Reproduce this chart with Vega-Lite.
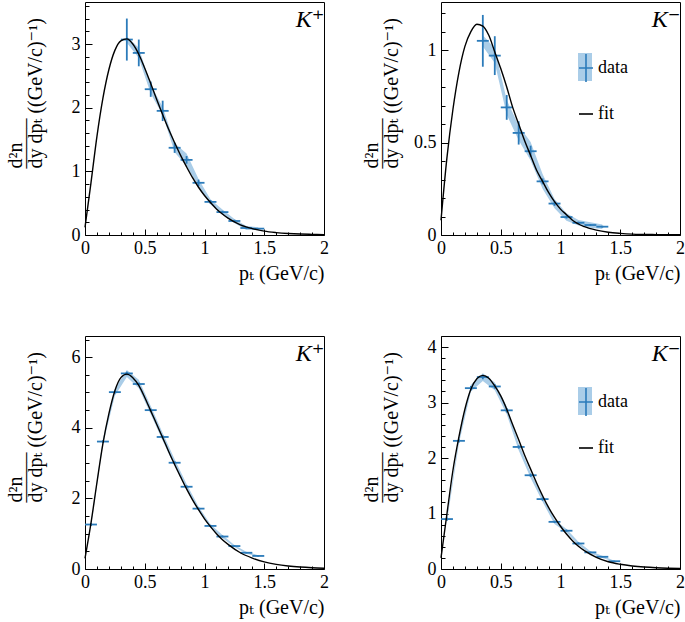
{
  "$schema": "https://vega.github.io/schema/vega-lite/v6.json",
  "padding": {"left": 4, "top": 1, "right": 3, "bottom": 5},
  "background": "white",
  "config": {
    "font": "Liberation Serif, DejaVu Serif, serif",
    "view": {"stroke": "black", "strokeWidth": 1},
    "axis": {"domain": false, "grid": false, "tickColor": "black", "tickWidth": 1, "labelFont": "Liberation Serif, DejaVu Serif, serif", "labelFontSize": 18, "labelColor": "black", "labelOverlap": false, "labelFlush": false, "titleFont": "Liberation Serif, DejaVu Serif, serif", "titleFontSize": 20, "titleFontWeight": "normal", "titleColor": "black"},
    "title": {"anchor": "end", "offset": -30, "baseline": "alphabetic", "font": "Liberation Serif, DejaVu Serif, serif", "fontStyle": "italic", "fontWeight": "normal", "fontSize": 24, "dx": -4, "color": "black"}
  },
  "columns": 2,
  "spacing": {"row": 101, "column": 117},
  "bounds": "flush",
  "resolve": {"scale": {"x": "independent", "y": "independent", "fill": "independent", "stroke": "independent"}, "legend": {"fill": "independent", "stroke": "independent"}},
  "datasets": {
    "k1": [
      {"pt": 0.35, "lo": 0.3, "hi": 0.4, "y": 3.07, "ylo": 2.74, "yhi": 3.4, "slo": 3.02, "shi": 3.12},
      {"pt": 0.45, "lo": 0.4, "hi": 0.5, "y": 2.86, "ylo": 2.65, "yhi": 3.07, "slo": 2.78, "shi": 2.94},
      {"pt": 0.55, "lo": 0.5, "hi": 0.6, "y": 2.29, "ylo": 2.17, "yhi": 2.41, "slo": 2.22, "shi": 2.36},
      {"pt": 0.65, "lo": 0.6, "hi": 0.7, "y": 1.95, "ylo": 1.79, "yhi": 2.11, "slo": 1.89, "shi": 2.01},
      {"pt": 0.75, "lo": 0.7, "hi": 0.8, "y": 1.37, "ylo": 1.29, "yhi": 1.45, "slo": 1.3, "shi": 1.44},
      {"pt": 0.85, "lo": 0.8, "hi": 0.9, "y": 1.18, "ylo": 1.12, "yhi": 1.24, "slo": 1.08, "shi": 1.28},
      {"pt": 0.95, "lo": 0.9, "hi": 1.0, "y": 0.82, "ylo": 0.77, "yhi": 0.87, "slo": 0.76, "shi": 0.88},
      {"pt": 1.05, "lo": 1.0, "hi": 1.1, "y": 0.52, "ylo": 0.49, "yhi": 0.55, "slo": 0.48, "shi": 0.56},
      {"pt": 1.15, "lo": 1.1, "hi": 1.2, "y": 0.36, "ylo": 0.34, "yhi": 0.38, "slo": 0.32, "shi": 0.4},
      {"pt": 1.25, "lo": 1.2, "hi": 1.3, "y": 0.22, "ylo": 0.2, "yhi": 0.24, "slo": 0.19, "shi": 0.25},
      {"pt": 1.35, "lo": 1.3, "hi": 1.4, "y": 0.11, "ylo": 0.1, "yhi": 0.12, "slo": 0.08, "shi": 0.14},
      {"pt": 1.45, "lo": 1.4, "hi": 1.5, "y": 0.1, "ylo": 0.09, "yhi": 0.11, "slo": 0.08, "shi": 0.12}
    ],
    "fit1": [
      {"pt": 0, "y": 0.12}, {"pt": 0.05, "y": 0.82}, {"pt": 0.1, "y": 1.55}, {"pt": 0.15, "y": 2.15}, {"pt": 0.2, "y": 2.6}, {"pt": 0.25, "y": 2.9}, {"pt": 0.3, "y": 3.05}, {"pt": 0.35, "y": 3.08}, {"pt": 0.4, "y": 3.0}, {"pt": 0.45, "y": 2.84}, {"pt": 0.5, "y": 2.62}, {"pt": 0.55, "y": 2.38}, {"pt": 0.6, "y": 2.13}, {"pt": 0.65, "y": 1.89}, {"pt": 0.7, "y": 1.66}, {"pt": 0.75, "y": 1.45}, {"pt": 0.8, "y": 1.25}, {"pt": 0.85, "y": 1.07}, {"pt": 0.9, "y": 0.9}, {"pt": 0.95, "y": 0.75}, {"pt": 1.0, "y": 0.62}, {"pt": 1.05, "y": 0.51}, {"pt": 1.1, "y": 0.41}, {"pt": 1.15, "y": 0.33}, {"pt": 1.2, "y": 0.26}, {"pt": 1.3, "y": 0.16}, {"pt": 1.4, "y": 0.1}, {"pt": 1.5, "y": 0.06}, {"pt": 1.6, "y": 0.038}, {"pt": 1.7, "y": 0.024}, {"pt": 1.8, "y": 0.015}, {"pt": 1.9, "y": 0.01}, {"pt": 2.0, "y": 0.006}
    ],
    "k2": [
      {"pt": 0.35, "lo": 0.3, "hi": 0.4, "y": 1.05, "ylo": 0.91, "yhi": 1.19, "slo": 1.02, "shi": 1.08},
      {"pt": 0.45, "lo": 0.4, "hi": 0.5, "y": 0.97, "ylo": 0.865, "yhi": 1.075, "slo": 0.93, "shi": 1.01},
      {"pt": 0.55, "lo": 0.5, "hi": 0.6, "y": 0.69, "ylo": 0.623, "yhi": 0.757, "slo": 0.65, "shi": 0.73},
      {"pt": 0.65, "lo": 0.6, "hi": 0.7, "y": 0.552, "ylo": 0.489, "yhi": 0.615, "slo": 0.512, "shi": 0.592},
      {"pt": 0.75, "lo": 0.7, "hi": 0.8, "y": 0.453, "ylo": 0.423, "yhi": 0.483, "slo": 0.403, "shi": 0.503},
      {"pt": 0.85, "lo": 0.8, "hi": 0.9, "y": 0.29, "ylo": 0.274, "yhi": 0.306, "slo": 0.25, "shi": 0.33},
      {"pt": 0.95, "lo": 0.9, "hi": 1.0, "y": 0.17, "ylo": 0.158, "yhi": 0.182, "slo": 0.145, "shi": 0.195},
      {"pt": 1.05, "lo": 1.0, "hi": 1.1, "y": 0.097, "ylo": 0.089, "yhi": 0.105, "slo": 0.077, "shi": 0.117},
      {"pt": 1.15, "lo": 1.1, "hi": 1.2, "y": 0.066, "ylo": 0.06, "yhi": 0.072, "slo": 0.051, "shi": 0.081},
      {"pt": 1.25, "lo": 1.2, "hi": 1.3, "y": 0.054, "ylo": 0.049, "yhi": 0.059, "slo": 0.039, "shi": 0.069},
      {"pt": 1.35, "lo": 1.3, "hi": 1.4, "y": 0.045, "ylo": 0.04, "yhi": 0.05, "slo": 0.033, "shi": 0.057}
    ],
    "fit2": [
      {"pt": 0, "y": 0.08}, {"pt": 0.05, "y": 0.42}, {"pt": 0.1, "y": 0.68}, {"pt": 0.15, "y": 0.88}, {"pt": 0.2, "y": 1.02}, {"pt": 0.25, "y": 1.1}, {"pt": 0.3, "y": 1.14}, {"pt": 0.35, "y": 1.13}, {"pt": 0.4, "y": 1.08}, {"pt": 0.45, "y": 0.99}, {"pt": 0.5, "y": 0.9}, {"pt": 0.55, "y": 0.8}, {"pt": 0.6, "y": 0.69}, {"pt": 0.65, "y": 0.6}, {"pt": 0.7, "y": 0.51}, {"pt": 0.75, "y": 0.43}, {"pt": 0.8, "y": 0.35}, {"pt": 0.85, "y": 0.29}, {"pt": 0.9, "y": 0.23}, {"pt": 0.95, "y": 0.18}, {"pt": 1.0, "y": 0.14}, {"pt": 1.05, "y": 0.11}, {"pt": 1.1, "y": 0.08}, {"pt": 1.2, "y": 0.045}, {"pt": 1.3, "y": 0.026}, {"pt": 1.4, "y": 0.015}, {"pt": 1.5, "y": 0.009}, {"pt": 1.6, "y": 0.005}, {"pt": 1.8, "y": 0.002}, {"pt": 2.0, "y": 0.001}
    ],
    "k3": [
      {"pt": 0.05, "lo": 0.0, "hi": 0.1, "y": 1.26, "ylo": 1.22, "yhi": 1.3, "slo": 1.21, "shi": 1.31},
      {"pt": 0.15, "lo": 0.1, "hi": 0.2, "y": 3.61, "ylo": 3.57, "yhi": 3.65, "slo": 3.53, "shi": 3.69},
      {"pt": 0.25, "lo": 0.2, "hi": 0.3, "y": 5.01, "ylo": 4.97, "yhi": 5.05, "slo": 4.91, "shi": 5.11},
      {"pt": 0.35, "lo": 0.3, "hi": 0.4, "y": 5.54, "ylo": 5.49, "yhi": 5.59, "slo": 5.44, "shi": 5.64},
      {"pt": 0.45, "lo": 0.4, "hi": 0.5, "y": 5.24, "ylo": 5.2, "yhi": 5.28, "slo": 5.12, "shi": 5.36},
      {"pt": 0.55, "lo": 0.5, "hi": 0.6, "y": 4.5, "ylo": 4.46, "yhi": 4.54, "slo": 4.38, "shi": 4.62},
      {"pt": 0.65, "lo": 0.6, "hi": 0.7, "y": 3.74, "ylo": 3.7, "yhi": 3.78, "slo": 3.63, "shi": 3.85},
      {"pt": 0.75, "lo": 0.7, "hi": 0.8, "y": 3.01, "ylo": 2.97, "yhi": 3.05, "slo": 2.91, "shi": 3.11},
      {"pt": 0.85, "lo": 0.8, "hi": 0.9, "y": 2.33, "ylo": 2.29, "yhi": 2.37, "slo": 2.25, "shi": 2.41},
      {"pt": 0.95, "lo": 0.9, "hi": 1.0, "y": 1.71, "ylo": 1.68, "yhi": 1.74, "slo": 1.65, "shi": 1.77},
      {"pt": 1.05, "lo": 1.0, "hi": 1.1, "y": 1.22, "ylo": 1.19, "yhi": 1.25, "slo": 1.17, "shi": 1.27},
      {"pt": 1.15, "lo": 1.1, "hi": 1.2, "y": 0.92, "ylo": 0.89, "yhi": 0.95, "slo": 0.88, "shi": 0.96},
      {"pt": 1.25, "lo": 1.2, "hi": 1.3, "y": 0.65, "ylo": 0.63, "yhi": 0.67, "slo": 0.62, "shi": 0.68},
      {"pt": 1.35, "lo": 1.3, "hi": 1.4, "y": 0.46, "ylo": 0.44, "yhi": 0.48, "slo": 0.43, "shi": 0.49},
      {"pt": 1.45, "lo": 1.4, "hi": 1.5, "y": 0.37, "ylo": 0.35, "yhi": 0.39, "slo": 0.35, "shi": 0.39}
    ],
    "fit3": [
      {"pt": 0, "y": 0.3}, {"pt": 0.05, "y": 1.3}, {"pt": 0.1, "y": 2.45}, {"pt": 0.15, "y": 3.55}, {"pt": 0.2, "y": 4.4}, {"pt": 0.25, "y": 5.05}, {"pt": 0.3, "y": 5.42}, {"pt": 0.35, "y": 5.52}, {"pt": 0.4, "y": 5.42}, {"pt": 0.45, "y": 5.2}, {"pt": 0.5, "y": 4.86}, {"pt": 0.55, "y": 4.48}, {"pt": 0.6, "y": 4.1}, {"pt": 0.65, "y": 3.72}, {"pt": 0.7, "y": 3.33}, {"pt": 0.75, "y": 2.96}, {"pt": 0.8, "y": 2.61}, {"pt": 0.85, "y": 2.27}, {"pt": 0.9, "y": 1.96}, {"pt": 0.95, "y": 1.68}, {"pt": 1.0, "y": 1.42}, {"pt": 1.05, "y": 1.2}, {"pt": 1.1, "y": 1.0}, {"pt": 1.15, "y": 0.83}, {"pt": 1.2, "y": 0.69}, {"pt": 1.3, "y": 0.46}, {"pt": 1.4, "y": 0.31}, {"pt": 1.5, "y": 0.2}, {"pt": 1.6, "y": 0.13}, {"pt": 1.7, "y": 0.085}, {"pt": 1.8, "y": 0.055}, {"pt": 1.9, "y": 0.035}, {"pt": 2.0, "y": 0.022}
    ],
    "k4": [
      {"pt": 0.05, "lo": 0.0, "hi": 0.1, "y": 0.9, "ylo": 0.87, "yhi": 0.93, "slo": 0.86, "shi": 0.94},
      {"pt": 0.15, "lo": 0.1, "hi": 0.2, "y": 2.31, "ylo": 2.28, "yhi": 2.34, "slo": 2.26, "shi": 2.36},
      {"pt": 0.25, "lo": 0.2, "hi": 0.3, "y": 3.26, "ylo": 3.22, "yhi": 3.3, "slo": 3.2, "shi": 3.32},
      {"pt": 0.35, "lo": 0.3, "hi": 0.4, "y": 3.46, "ylo": 3.42, "yhi": 3.5, "slo": 3.39, "shi": 3.53},
      {"pt": 0.45, "lo": 0.4, "hi": 0.5, "y": 3.29, "ylo": 3.25, "yhi": 3.33, "slo": 3.22, "shi": 3.36},
      {"pt": 0.55, "lo": 0.5, "hi": 0.6, "y": 2.86, "ylo": 2.82, "yhi": 2.9, "slo": 2.79, "shi": 2.93},
      {"pt": 0.65, "lo": 0.6, "hi": 0.7, "y": 2.2, "ylo": 2.17, "yhi": 2.23, "slo": 2.14, "shi": 2.26},
      {"pt": 0.75, "lo": 0.7, "hi": 0.8, "y": 1.69, "ylo": 1.66, "yhi": 1.72, "slo": 1.64, "shi": 1.74},
      {"pt": 0.85, "lo": 0.8, "hi": 0.9, "y": 1.26, "ylo": 1.23, "yhi": 1.29, "slo": 1.21, "shi": 1.31},
      {"pt": 0.95, "lo": 0.9, "hi": 1.0, "y": 0.85, "ylo": 0.83, "yhi": 0.87, "slo": 0.81, "shi": 0.89},
      {"pt": 1.05, "lo": 1.0, "hi": 1.1, "y": 0.69, "ylo": 0.67, "yhi": 0.71, "slo": 0.66, "shi": 0.72},
      {"pt": 1.15, "lo": 1.1, "hi": 1.2, "y": 0.46, "ylo": 0.44, "yhi": 0.48, "slo": 0.43, "shi": 0.49},
      {"pt": 1.25, "lo": 1.2, "hi": 1.3, "y": 0.3, "ylo": 0.29, "yhi": 0.31, "slo": 0.28, "shi": 0.32},
      {"pt": 1.35, "lo": 1.3, "hi": 1.4, "y": 0.22, "ylo": 0.21, "yhi": 0.23, "slo": 0.2, "shi": 0.24},
      {"pt": 1.45, "lo": 1.4, "hi": 1.5, "y": 0.14, "ylo": 0.13, "yhi": 0.15, "slo": 0.13, "shi": 0.15}
    ],
    "fit4": [
      {"pt": 0, "y": 0.2}, {"pt": 0.05, "y": 1.0}, {"pt": 0.1, "y": 1.78}, {"pt": 0.15, "y": 2.38}, {"pt": 0.2, "y": 2.88}, {"pt": 0.25, "y": 3.24}, {"pt": 0.3, "y": 3.43}, {"pt": 0.35, "y": 3.49}, {"pt": 0.4, "y": 3.44}, {"pt": 0.45, "y": 3.3}, {"pt": 0.5, "y": 3.12}, {"pt": 0.55, "y": 2.88}, {"pt": 0.6, "y": 2.6}, {"pt": 0.65, "y": 2.33}, {"pt": 0.7, "y": 2.05}, {"pt": 0.75, "y": 1.8}, {"pt": 0.8, "y": 1.55}, {"pt": 0.85, "y": 1.32}, {"pt": 0.9, "y": 1.11}, {"pt": 0.95, "y": 0.93}, {"pt": 1.0, "y": 0.77}, {"pt": 1.05, "y": 0.63}, {"pt": 1.1, "y": 0.51}, {"pt": 1.15, "y": 0.41}, {"pt": 1.2, "y": 0.33}, {"pt": 1.3, "y": 0.21}, {"pt": 1.4, "y": 0.13}, {"pt": 1.5, "y": 0.085}, {"pt": 1.6, "y": 0.055}, {"pt": 1.7, "y": 0.035}, {"pt": 1.8, "y": 0.022}, {"pt": 1.9, "y": 0.014}, {"pt": 2.0, "y": 0.009}
    ]
  },
  "concat": [
    {
      "width": 239, "height": 233,
      "title": {"text": "K⁺"},
      "resolve": {"axis": {"x": "independent", "y": "independent"}},
      "layer": [
        {"data": {"name": "k1"}, "mark": {"type": "area", "color": "#aacde8", "opacity": 1},
         "encoding": {
           "x": {"field": "pt", "type": "quantitative", "scale": {"domain": [0, 2], "nice": false},
                 "axis": {"orient": "bottom", "values": [0, 0.5, 1, 1.5, 2], "format": "~g", "ticks": false, "labelPadding": 4, "title": "pₜ (GeV/c)", "titleAnchor": "end", "titleAlign": "right", "titleX": 239, "titleY": 28, "titleBaseline": "top"}},
           "y": {"field": "slo", "type": "quantitative", "scale": {"domain": [0, 3.66], "nice": false},
                 "axis": {"orient": "left", "values": [0, 1, 2, 3], "format": "~g", "ticks": false, "labelPadding": 5, "title": ["   d²n", "–––––", "dy dpₜ ((GeV/c)⁻¹)"], "titleAngle": -90, "titleAlign": "left", "titleBaseline": "alphabetic", "titleX": -64, "titleY": 166, "titleLineHeight": 10}},
           "y2": {"field": "shi"}}},
        {"data": {"name": "k1"}, "mark": {"type": "rule", "color": "#2b7bba", "strokeWidth": 1.8},
         "encoding": {
           "x": {"field": "pt", "type": "quantitative", "axis": {"orient": "bottom", "values": [0, 0.5, 1, 1.5, 2], "tickSize": 6, "offset": -6, "labels": false, "title": null}},
           "y": {"field": "ylo", "type": "quantitative", "axis": {"orient": "left", "values": [0, 1, 2, 3], "tickSize": 7, "offset": -7, "labels": false, "title": null}},
           "y2": {"field": "yhi"}}},
        {"data": {"name": "k1"}, "mark": {"type": "rule", "color": "#2b7bba", "strokeWidth": 1.8},
         "encoding": {
           "x": {"field": "lo", "type": "quantitative", "axis": {"orient": "bottom", "values": [0.1, 0.2, 0.3, 0.4, 0.6, 0.7, 0.8, 0.9, 1.1, 1.2, 1.3, 1.4, 1.6, 1.7, 1.8, 1.9], "tickSize": 3, "offset": -3, "labels": false, "title": null}},
           "x2": {"field": "hi"},
           "y": {"field": "y", "type": "quantitative", "axis": {"orient": "left", "values": [0.2, 0.4, 0.6, 0.8, 1.2, 1.4, 1.6, 1.8, 2.2, 2.4, 2.6, 2.8, 3.2, 3.4, 3.6], "tickSize": 4, "offset": -4, "labels": false, "title": null}}}},
        {"data": {"name": "fit1"}, "mark": {"type": "line", "color": "black", "strokeWidth": 1.4, "interpolate": "monotone"},
         "encoding": {"x": {"field": "pt", "type": "quantitative", "axis": null}, "y": {"field": "y", "type": "quantitative", "axis": null}}}
      ]
    },
    {
      "width": 239, "height": 233,
      "title": {"text": "K⁻"},
      "resolve": {"axis": {"x": "independent", "y": "independent"}},
      "layer": [
        {"data": {"name": "k2"}, "mark": {"type": "area", "opacity": 1},
         "encoding": {
           "x": {"field": "pt", "type": "quantitative", "scale": {"domain": [0, 2], "nice": false},
                 "axis": {"orient": "bottom", "values": [0, 0.5, 1, 1.5, 2], "format": "~g", "ticks": false, "labelPadding": 4, "title": "pₜ (GeV/c)", "titleAnchor": "end", "titleAlign": "right", "titleX": 239, "titleY": 28, "titleBaseline": "top"}},
           "y": {"field": "slo", "type": "quantitative", "scale": {"domain": [0, 1.26], "nice": false},
                 "axis": {"orient": "left", "values": [0, 0.5, 1], "format": "~g", "ticks": false, "labelPadding": 5, "title": ["   d²n", "–––––", "dy dpₜ ((GeV/c)⁻¹)"], "titleAngle": -90, "titleAlign": "left", "titleBaseline": "alphabetic", "titleX": -64, "titleY": 166, "titleLineHeight": 10}},
           "y2": {"field": "shi"},
           "fill": {"datum": "data", "scale": {"domain": ["data"], "range": ["#aacde8"]},
                    "legend": {"orient": "none", "legendX": 130, "legendY": 51, "title": null, "padding": 0, "symbolType": "M-0.5,-1H0.5V1H-0.5Z", "symbolSize": 784, "symbolStrokeWidth": 0, "symbolOpacity": 1, "labelFontSize": 18, "labelExpr": "''", "labelOffset": -3, "zindex": 0}}}},
        {"data": {"name": "k2"}, "mark": {"type": "rule", "strokeWidth": 1.8},
         "encoding": {
           "x": {"field": "pt", "type": "quantitative", "axis": {"orient": "bottom", "values": [0, 0.5, 1, 1.5, 2], "tickSize": 6, "offset": -6, "labels": false, "title": null}},
           "y": {"field": "ylo", "type": "quantitative", "axis": {"orient": "left", "values": [0, 0.5, 1], "tickSize": 7, "offset": -7, "labels": false, "title": null}},
           "y2": {"field": "yhi"},
           "stroke": {"datum": "data", "scale": {"domain": ["data", "fit"], "range": ["#2b7bba", "black"]},
                      "legend": {"orient": "none", "legendX": 130, "legendY": 51, "title": null, "padding": 0, "symbolSize": 784, "symbolStrokeWidth": 1.6, "labelFont": "Liberation Serif, DejaVu Serif, serif", "labelFontSize": 18, "labelColor": "black", "labelOffset": -3, "rowPadding": 13, "zindex": 1,
                                 "encode": {"symbols": {"update": {"shape": {"signal": "datum.value === 'data' ? 'M0,-1V1M-0.5,0H0.5' : 'M-0.5,0H0.5'"}}}}}}}},
        {"data": {"name": "k2"}, "mark": {"type": "rule", "strokeWidth": 1.8},
         "encoding": {
           "x": {"field": "lo", "type": "quantitative", "axis": {"orient": "bottom", "values": [0.1, 0.2, 0.3, 0.4, 0.6, 0.7, 0.8, 0.9, 1.1, 1.2, 1.3, 1.4, 1.6, 1.7, 1.8, 1.9], "tickSize": 3, "offset": -3, "labels": false, "title": null}},
           "x2": {"field": "hi"},
           "y": {"field": "y", "type": "quantitative", "axis": {"orient": "left", "values": [0.1, 0.2, 0.3, 0.4, 0.6, 0.7, 0.8, 0.9, 1.1, 1.2], "tickSize": 4, "offset": -4, "labels": false, "title": null}},
           "stroke": {"datum": "data"}}},
        {"data": {"name": "fit2"}, "mark": {"type": "line", "strokeWidth": 1.4, "interpolate": "monotone"},
         "encoding": {"x": {"field": "pt", "type": "quantitative", "axis": null}, "y": {"field": "y", "type": "quantitative", "axis": null}, "stroke": {"datum": "fit"}}}
      ]
    },
    {
      "width": 239, "height": 233,
      "title": {"text": "K⁺"},
      "resolve": {"axis": {"x": "independent", "y": "independent"}},
      "layer": [
        {"data": {"name": "k3"}, "mark": {"type": "area", "color": "#aacde8", "opacity": 1},
         "encoding": {
           "x": {"field": "pt", "type": "quantitative", "scale": {"domain": [0, 2], "nice": false},
                 "axis": {"orient": "bottom", "values": [0, 0.5, 1, 1.5, 2], "format": "~g", "ticks": false, "labelPadding": 4, "title": "pₜ (GeV/c)", "titleAnchor": "end", "titleAlign": "right", "titleX": 239, "titleY": 28, "titleBaseline": "top"}},
           "y": {"field": "slo", "type": "quantitative", "scale": {"domain": [0, 6.6], "nice": false},
                 "axis": {"orient": "left", "values": [0, 2, 4, 6], "format": "~g", "ticks": false, "labelPadding": 5, "title": ["   d²n", "–––––", "dy dpₜ ((GeV/c)⁻¹)"], "titleAngle": -90, "titleAlign": "left", "titleBaseline": "alphabetic", "titleX": -64, "titleY": 166, "titleLineHeight": 10}},
           "y2": {"field": "shi"}}},
        {"data": {"name": "k3"}, "mark": {"type": "rule", "color": "#2b7bba", "strokeWidth": 1.8},
         "encoding": {
           "x": {"field": "pt", "type": "quantitative", "axis": {"orient": "bottom", "values": [0, 0.5, 1, 1.5, 2], "tickSize": 6, "offset": -6, "labels": false, "title": null}},
           "y": {"field": "ylo", "type": "quantitative", "axis": {"orient": "left", "values": [0, 2, 4, 6], "tickSize": 7, "offset": -7, "labels": false, "title": null}},
           "y2": {"field": "yhi"}}},
        {"data": {"name": "k3"}, "mark": {"type": "rule", "color": "#2b7bba", "strokeWidth": 1.8},
         "encoding": {
           "x": {"field": "lo", "type": "quantitative", "axis": {"orient": "bottom", "values": [0.1, 0.2, 0.3, 0.4, 0.6, 0.7, 0.8, 0.9, 1.1, 1.2, 1.3, 1.4, 1.6, 1.7, 1.8, 1.9], "tickSize": 3, "offset": -3, "labels": false, "title": null}},
           "x2": {"field": "hi"},
           "y": {"field": "y", "type": "quantitative", "axis": {"orient": "left", "values": [0.5, 1, 1.5, 2.5, 3, 3.5, 4.5, 5, 5.5, 6.5], "tickSize": 4, "offset": -4, "labels": false, "title": null}}}},
        {"data": {"name": "fit3"}, "mark": {"type": "line", "color": "black", "strokeWidth": 1.4, "interpolate": "monotone"},
         "encoding": {"x": {"field": "pt", "type": "quantitative", "axis": null}, "y": {"field": "y", "type": "quantitative", "axis": null}}}
      ]
    },
    {
      "width": 239, "height": 233,
      "title": {"text": "K⁻"},
      "resolve": {"axis": {"x": "independent", "y": "independent"}},
      "layer": [
        {"data": {"name": "k4"}, "mark": {"type": "area", "opacity": 1},
         "encoding": {
           "x": {"field": "pt", "type": "quantitative", "scale": {"domain": [0, 2], "nice": false},
                 "axis": {"orient": "bottom", "values": [0, 0.5, 1, 1.5, 2], "format": "~g", "ticks": false, "labelPadding": 4, "title": "pₜ (GeV/c)", "titleAnchor": "end", "titleAlign": "right", "titleX": 239, "titleY": 28, "titleBaseline": "top"}},
           "y": {"field": "slo", "type": "quantitative", "scale": {"domain": [0, 4.2], "nice": false},
                 "axis": {"orient": "left", "values": [0, 1, 2, 3, 4], "format": "~g", "ticks": false, "labelPadding": 5, "title": ["   d²n", "–––––", "dy dpₜ ((GeV/c)⁻¹)"], "titleAngle": -90, "titleAlign": "left", "titleBaseline": "alphabetic", "titleX": -64, "titleY": 166, "titleLineHeight": 10}},
           "y2": {"field": "shi"},
           "fill": {"datum": "data", "scale": {"domain": ["data"], "range": ["#aacde8"]},
                    "legend": {"orient": "none", "legendX": 130, "legendY": 51, "title": null, "padding": 0, "symbolType": "M-0.5,-1H0.5V1H-0.5Z", "symbolSize": 784, "symbolStrokeWidth": 0, "symbolOpacity": 1, "labelFontSize": 18, "labelExpr": "''", "labelOffset": -3, "zindex": 0}}}},
        {"data": {"name": "k4"}, "mark": {"type": "rule", "strokeWidth": 1.8},
         "encoding": {
           "x": {"field": "pt", "type": "quantitative", "axis": {"orient": "bottom", "values": [0, 0.5, 1, 1.5, 2], "tickSize": 6, "offset": -6, "labels": false, "title": null}},
           "y": {"field": "ylo", "type": "quantitative", "axis": {"orient": "left", "values": [0, 1, 2, 3, 4], "tickSize": 7, "offset": -7, "labels": false, "title": null}},
           "y2": {"field": "yhi"},
           "stroke": {"datum": "data", "scale": {"domain": ["data", "fit"], "range": ["#2b7bba", "black"]},
                      "legend": {"orient": "none", "legendX": 130, "legendY": 51, "title": null, "padding": 0, "symbolSize": 784, "symbolStrokeWidth": 1.6, "labelFont": "Liberation Serif, DejaVu Serif, serif", "labelFontSize": 18, "labelColor": "black", "labelOffset": -3, "rowPadding": 13, "zindex": 1,
                                 "encode": {"symbols": {"update": {"shape": {"signal": "datum.value === 'data' ? 'M0,-1V1M-0.5,0H0.5' : 'M-0.5,0H0.5'"}}}}}}}},
        {"data": {"name": "k4"}, "mark": {"type": "rule", "strokeWidth": 1.8},
         "encoding": {
           "x": {"field": "lo", "type": "quantitative", "axis": {"orient": "bottom", "values": [0.1, 0.2, 0.3, 0.4, 0.6, 0.7, 0.8, 0.9, 1.1, 1.2, 1.3, 1.4, 1.6, 1.7, 1.8, 1.9], "tickSize": 3, "offset": -3, "labels": false, "title": null}},
           "x2": {"field": "hi"},
           "y": {"field": "y", "type": "quantitative", "axis": {"orient": "left", "values": [0.2, 0.4, 0.6, 0.8, 1.2, 1.4, 1.6, 1.8, 2.2, 2.4, 2.6, 2.8, 3.2, 3.4, 3.6, 3.8, 4.2], "tickSize": 4, "offset": -4, "labels": false, "title": null}},
           "stroke": {"datum": "data"}}},
        {"data": {"name": "fit4"}, "mark": {"type": "line", "strokeWidth": 1.4, "interpolate": "monotone"},
         "encoding": {"x": {"field": "pt", "type": "quantitative", "axis": null}, "y": {"field": "y", "type": "quantitative", "axis": null}, "stroke": {"datum": "fit"}}}
      ]
    }
  ]
}
